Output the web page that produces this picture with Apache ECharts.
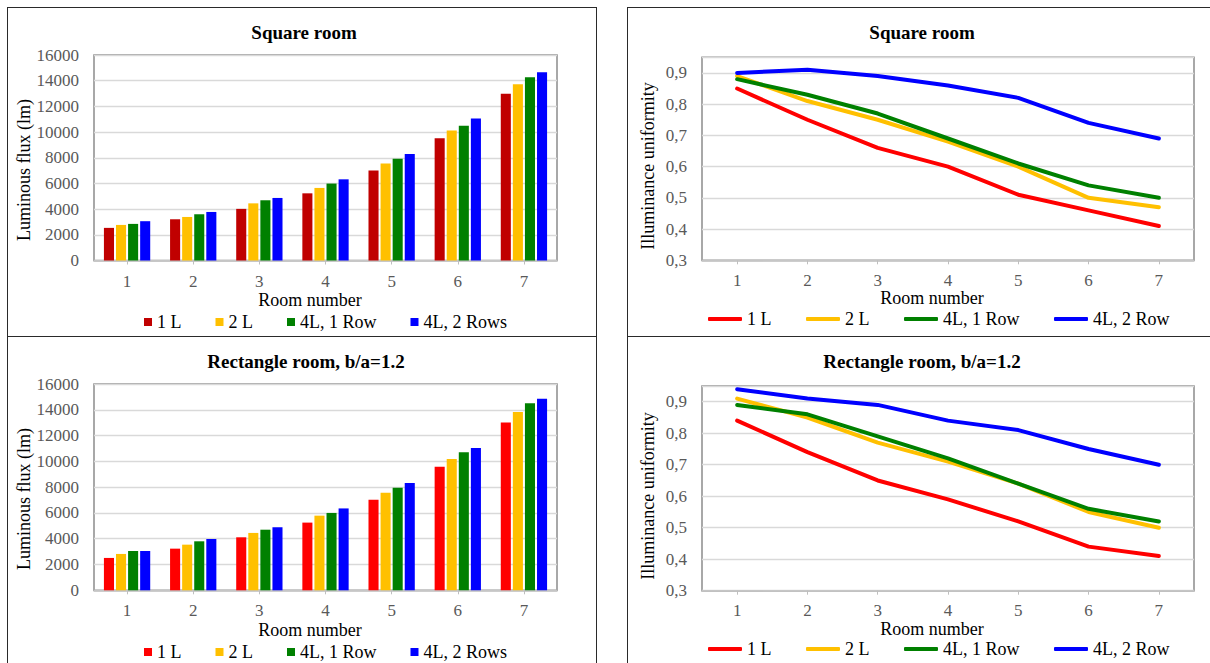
<!DOCTYPE html>
<html>
<head>
<meta charset="utf-8">
<script src="https://cdn.jsdelivr.net/npm/echarts@6/dist/echarts.min.js"></script>
<style>
html,body{margin:0;padding:0;width:1210px;height:663px;overflow:hidden;background:#fff;}
.panel{position:absolute;box-sizing:border-box;border:1.5px solid #2a2a2a;}
.chart{position:absolute;}
</style>
</head>
<body>
<div class="panel" style="left:7px;top:7px;width:590px;height:330px;"></div>
<div class="panel" style="left:7px;top:336px;width:590px;height:340px;"></div>
<div class="panel" style="left:627px;top:7px;width:620px;height:330px;"></div>
<div class="panel" style="left:627px;top:336px;width:620px;height:340px;"></div>
<div id="tl" class="chart" style="left:7px;top:7px;width:590px;height:330px;"></div>
<div id="bl" class="chart" style="left:7px;top:336px;width:590px;height:330px;"></div>
<div id="tr" class="chart" style="left:627px;top:7px;width:590px;height:330px;"></div>
<div id="br" class="chart" style="left:627px;top:336px;width:590px;height:330px;"></div>
<script>
// ---------- data ----------
const categories = ['1', '2', '3', '4', '5', '6', '7'];
const barNames = ['1 L', '2 L', '4L, 1 Row', '4L, 2 Rows'];
const lineNames = ['1 L', '2 L', '4L, 1 Row', '4L, 2 Row'];

const squareFlux1L   = [2540, 3210, 4020, 5230, 7000, 9510, 12980];
const squareFlux2L   = [2770, 3390, 4450, 5650, 7560, 10130, 13730];
const squareFlux4L1R = [2850, 3600, 4690, 5990, 7930, 10490, 14270];
const squareFlux4L2R = [3060, 3780, 4870, 6320, 8290, 11060, 14660];

const rectFlux1L   = [2510, 3230, 4110, 5250, 7030, 9590, 13020];
const rectFlux2L   = [2820, 3540, 4450, 5790, 7570, 10180, 13820];
const rectFlux4L1R = [3050, 3800, 4700, 6000, 7960, 10700, 14500];
const rectFlux4L2R = [3050, 3980, 4890, 6350, 8320, 11030, 14860];

const squareUni1L   = [0.85, 0.75, 0.66, 0.60, 0.51, 0.46, 0.41];
const squareUni2L   = [0.89, 0.81, 0.75, 0.68, 0.60, 0.50, 0.47];
const squareUni4L1R = [0.88, 0.83, 0.77, 0.69, 0.61, 0.54, 0.50];
const squareUni4L2R = [0.90, 0.91, 0.89, 0.86, 0.82, 0.74, 0.69];

const rectUni1L   = [0.84, 0.74, 0.65, 0.59, 0.52, 0.44, 0.41];
const rectUni2L   = [0.91, 0.85, 0.77, 0.71, 0.64, 0.55, 0.50];
const rectUni4L1R = [0.89, 0.86, 0.79, 0.72, 0.64, 0.56, 0.52];
const rectUni4L2R = [0.94, 0.91, 0.89, 0.84, 0.81, 0.75, 0.70];

const fluxTicks = {min: 0, max: 16000, interval: 2000};
const uniTicks = {min: 0.3, max: 0.95, interval: 0.1};

// ---------- styles ----------
const FONT = 'Liberation Serif';
const TICK_COLOR = '#595959';

function textEl(text, x, y, size, bold, rot) {
  return {
    type: 'text', x: x, y: y, rotation: rot || 0,
    style: {
      text: text, x: 0, y: 0,
      fontFamily: FONT, fontSize: size, fontWeight: bold ? 'bold' : 'normal',
      fill: '#000',
      align: 'center', verticalAlign: 'middle',
      textAlign: 'center', textVerticalAlign: 'middle'
    }
  };
}

function baseAxes(grid, yCfg, xMargin, yFormatter) {
  return {
    grid: Object.assign({show: true, borderColor: '#8C8C8C', borderWidth: 1.5, backgroundColor: 'transparent'}, grid),
    xAxis: {
      type: 'category', data: categories, boundaryGap: true,
      axisLine: {lineStyle: {color: '#BFBFBF', width: 1.5}},
      axisTick: {show: true, alignWithLabel: true, length: 4, lineStyle: {color: '#BFBFBF'}},
      axisLabel: {color: TICK_COLOR, fontFamily: FONT, fontSize: 17, margin: xMargin},
      splitLine: {show: false}
    },
    yAxis: {
      type: 'value', min: yCfg.min, max: yCfg.max, interval: yCfg.interval,
      axisLine: {show: false}, axisTick: {show: false},
      axisLabel: {color: TICK_COLOR, fontFamily: FONT, fontSize: 17, margin: 15, formatter: yFormatter},
      splitLine: {lineStyle: {color: '#D9D9D9', width: 1.3}}
    }
  };
}

function barChart(id, title, titleX, grid, data, colors, legendTop, xNameY) {
  const chart = echarts.init(document.getElementById(id), null, {renderer: 'svg'});
  const opt = baseAxes(grid, fluxTicks, 12, v => String(Math.round(v)));
  opt.animation = false;
  opt.color = colors;
  opt.legend = {
    data: barNames, left: 137, top: legendTop, padding: 0, itemGap: 34,
    icon: 'rect', itemWidth: 8, itemHeight: 8,
    textStyle: {fontFamily: FONT, fontSize: 18, color: '#000'}
  };
  opt.series = barNames.map((n, i) => ({
    name: n, type: 'bar', data: data[i],
    barGap: '20%', barCategoryGap: '30%',
    itemStyle: {color: colors[i]}
  }));
  opt.graphic = [
    textEl(title, titleX, 25, 19, true),
    textEl('Room number', 303, xNameY, 18, false),
    textEl('Luminous flux (lm)', 17, 163, 18, false, Math.PI / 2)
  ];
  chart.setOption(opt);
}

function lineChart(id, title, grid, data, colors, legendTop, xNameY, yNameY, xMargin) {
  const chart = echarts.init(document.getElementById(id), null, {renderer: 'svg'});
  const opt = baseAxes(grid, uniTicks, xMargin,
    v => v > 0.92 ? '' : v.toFixed(1).replace('.', ','));
  opt.animation = false;
  opt.color = colors;
  opt.legend = {
    data: lineNames, left: 81, top: legendTop, padding: 0, itemGap: 34.5,
    icon: 'roundRect', itemWidth: 34, itemHeight: 4,
    textStyle: {fontFamily: FONT, fontSize: 18, color: '#000'}
  };
  opt.series = lineNames.map((n, i) => ({
    name: n, type: 'line', data: data[i], symbol: 'none', smooth: false,
    lineStyle: {color: colors[i], width: 4, cap: 'round', join: 'round'},
    itemStyle: {color: colors[i]}
  }));
  opt.graphic = [
    textEl(title, 295, 25, 19, true),
    textEl('Room number', 305, xNameY, 18, false),
    textEl('Illuminance uniformity', 21, yNameY, 18, false, Math.PI / 2)
  ];
  chart.setOption(opt);
}

barChart('tl', 'Square room', 297,
  {left: 87, top: 48, width: 463, height: 205.5},
  [squareFlux1L, squareFlux2L, squareFlux4L1R, squareFlux4L2R],
  ['#C00000', '#FFC000', '#008000', '#0000FF'], 306, 293);

barChart('bl', 'Rectangle room, b/a=1.2', 299,
  {left: 87, top: 48, width: 463, height: 206.3},
  [rectFlux1L, rectFlux2L, rectFlux4L1R, rectFlux4L2R],
  ['#FF0000', '#FFC000', '#008000', '#0000FF'], 307, 294);

lineChart('tr', 'Square room',
  {left: 75, top: 50.3, width: 492, height: 203},
  [squareUni1L, squareUni2L, squareUni4L1R, squareUni4L2R],
  ['#FF0000', '#FFC000', '#008000', '#0000FF'], 303, 291, 159, 12);

lineChart('br', 'Rectangle room, b/a=1.2',
  {left: 75, top: 50, width: 492, height: 204.7},
  [rectUni1L, rectUni2L, rectUni4L1R, rectUni4L2R],
  ['#FF0000', '#FFC000', '#008000', '#0000FF'], 304, 293, 160, 11);
</script>
</body>
</html>
